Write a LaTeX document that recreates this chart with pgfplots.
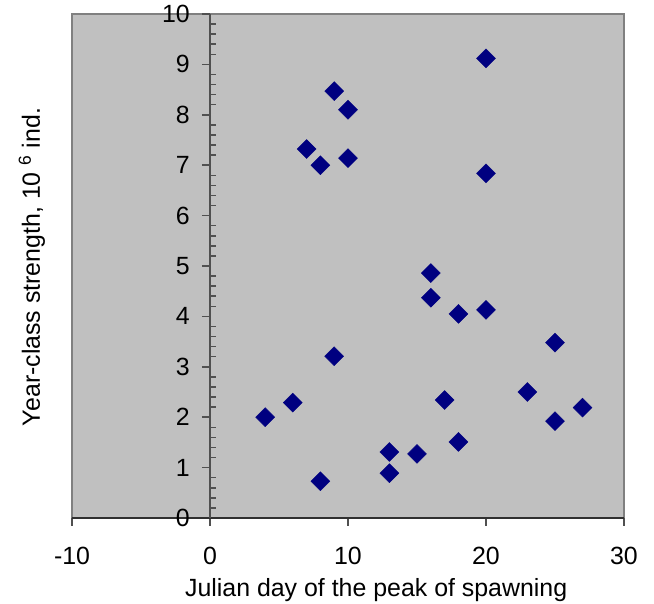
\documentclass[border=0pt]{standalone}
\usepackage{pgfplots}
\pgfplotsset{compat=1.18}
\usepackage{fontspec}
\setmainfont{Liberation Sans}

\definecolor{plotbg}{HTML}{C0C0C0}
\definecolor{framecol}{HTML}{808080}
\definecolor{xaxiscol}{HTML}{303030}
\definecolor{yaxiscol}{HTML}{505050}
\definecolor{navymark}{HTML}{000080}

\newcommand{\chartfont}{\fontsize{25}{29}\selectfont}

\begin{document}
\begin{tikzpicture}
\begin{axis}[
    scale only axis,
    width=552bp, height=504bp,
    xmin=-10, xmax=30, ymin=0, ymax=10,
    axis lines=middle,
    axis line style={-, line width=1.5bp},
    x axis line style={color=xaxiscol},
    y axis line style={color=yaxiscol},
    axis background/.style={fill=plotbg, draw=framecol, line width=1.5bp},
    xtick={-10,0,10,20,30},
    xticklabels={-10,0,10,20,30},
    ytick={0,1,2,3,4,5,6,7,8,9,10},
    yticklabels={0,1,2,3,4,5,6,7,8,9,10},
    minor y tick num=4,
    tick align=outside,
    major tick length=8bp,
    minor tick length=6bp,
    tick style={line width=1.5bp, color=yaxiscol},
    minor y tick style={xshift=6bp},
    hide obscured x ticks=false,
    hide obscured y ticks=false,
    tick label style={font=\chartfont, inner sep=0pt},
    xticklabel style={anchor=north, yshift=-21bp},
    yticklabel style={anchor=east, xshift=-12bp},
    clip=false,
]
\addplot[only marks, mark=square*, mark size=6.7bp,
         mark options={rotate=45, fill=navymark, draw=navymark}]
  table {
x y
20 9.12
9 8.47
10 8.10
7 7.32
8 7.00
10 7.14
20 6.84
16 4.86
16 4.37
18 4.05
20 4.13
25 3.48
9 3.21
23 2.50
17 2.34
6 2.29
4 2.00
27 2.19
25 1.92
18 1.51
13 1.31
15 1.27
13 0.89
8 0.73
};
\node[font=\chartfont, inner sep=0pt, anchor=base]
  at (axis description cs:0.551,-0.1548) {Julian day of the peak of spawning};
\node[font=\chartfont, inner sep=0pt, rotate=90, anchor=center]
  at (axis description cs:-0.0725,0.498) {Year-class strength, 10~\textsuperscript{6} ind.};
\end{axis}
\pgfresetboundingbox
\path[use as bounding box] (-72bp,-86bp) rectangle (582bp,518bp);
\end{tikzpicture}
\end{document}
